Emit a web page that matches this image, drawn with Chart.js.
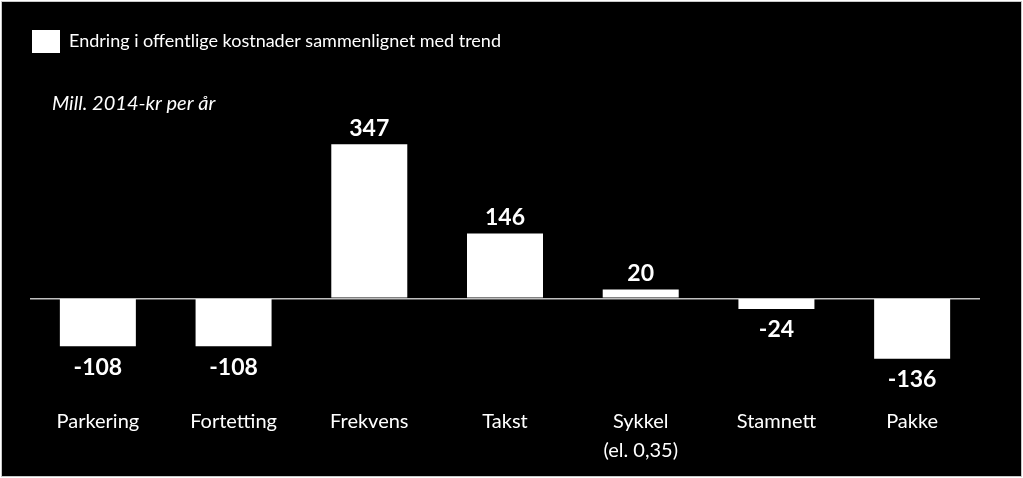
<!DOCTYPE html>
<html>
<head>
<meta charset="utf-8">
<script src="https://cdn.jsdelivr.net/npm/chart.js@4.4.1/dist/chart.umd.min.js"></script>
<style>
  html, body { margin: 0; padding: 0; background: #fff; }
  canvas { display: block; }
</style>
</head>
<body>
<canvas id="kostnader" width="1023" height="478"></canvas>
<script>
// data
var categories = ['Parkering', 'Fortetting', 'Frekvens', 'Takst', ['Sykkel', '(el. 0,35)'], 'Stamnett', 'Pakke'];
var endring = [-108, -108, 347, 146, 20, -24, -136];
var seriesLabel = 'Endring i offentlige kostnader sammenlignet med trend';
var unitLabel = 'Mill. 2014-kr per år';

// black slide background with thin grey frame
const background = {
  id: 'background',
  beforeDraw(chart) {
    const c = chart.ctx;
    c.save();
    c.fillStyle = '#ffffff';
    c.fillRect(0, 0, chart.width, chart.height);
    c.fillStyle = '#000000';
    c.fillRect(1, 1, chart.width - 3, chart.height - 3);
    c.strokeStyle = '#c8c8c8';
    c.lineWidth = 1;
    c.strokeRect(1.5, 1.5, chart.width - 3, chart.height - 3);
    c.restore();
  }
};

// value labels + unit text
const valueLabels = {
  id: 'valueLabels',
  afterDatasetsDraw(chart) {
    const c = chart.ctx;
    const meta = chart.getDatasetMeta(0);
    c.save();
    c.fillStyle = '#ffffff';
    c.font = 'bold 23px Lato';
    c.textAlign = 'center';
    c.textBaseline = 'middle';
    meta.data.forEach(function (bar, i) {
      const v = chart.data.datasets[0].data[i];
      const y = v >= 0 ? bar.y - 16 : bar.y + 21;
      c.fillText(v, bar.x, y);
    });
    c.font = 'italic 20px Lato';
    c.textAlign = 'left';
    c.fillText(unitLabel, 52, 104);
    c.restore();
  }
};

var ctx_kost = document.getElementById('kostnader');
var kost = new Chart(ctx_kost, {
  type: 'bar',
  data: {
    labels: categories,
    datasets: [
      {
        label: seriesLabel,
        backgroundColor: '#ffffff',
        borderWidth: 0,
        categoryPercentage: 1,
        barPercentage: 0.56,
        data: endring
      }
    ]
  },
  options: {
    responsive: false,
    animation: false,
    layout: {
      padding: { top: 28, left: 30, right: 43, bottom: -10 }
    },
    scales: {
      x: {
        grid: { display: false },
        border: { display: false },
        ticks: {
          color: '#ffffff',
          padding: 23,
          font: { family: 'Lato', size: 20, lineHeight: 1.45 }
        }
      },
      y: {
        min: -175,
        max: 530,
        border: { display: false },
        grid: {
          drawTicks: false,
          lineWidth: 1.5,
          color: (ctx) => ctx.tick && ctx.tick.value === 0 ? '#bfbfbf' : 'rgba(0,0,0,0)'
        },
        ticks: { display: false, stepSize: 5 }
      }
    },
    plugins: {
      legend: {
        display: true,
        position: 'top',
        align: 'start',
        labels: {
          color: '#ffffff',
          boxWidth: 28,
          boxHeight: 23,
          padding: 2,
          font: { family: 'Lato', size: 18 }
        }
      },
      tooltip: { enabled: false }
    }
  },
  plugins: [background, valueLabels]
});
</script>
</body>
</html>
